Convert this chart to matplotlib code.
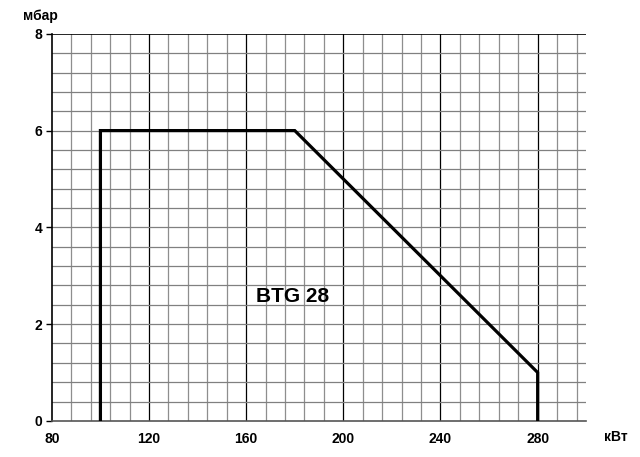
import numpy as np
import matplotlib.pyplot as plt

# range envelope of the burner
power_kw = [100, 100, 180, 280, 280]
pressure_mbar = [0, 6, 6, 1, 0]

x_ticks = [80, 120, 160, 200, 240, 280]
y_ticks = [0, 2, 4, 6, 8]
label = "BTG 28"

plt.rcParams['font.family'] = ['Liberation Sans', 'DejaVu Sans']

fig = plt.figure(figsize=(6.4, 4.57), dpi=100)
ax = fig.add_axes([0.081, 0.079, 0.835, 0.847])
ax.set_xlim(80, 300)
ax.set_ylim(0, 8)

# minor grid, every 8 kW and 0.4 mbar
for x in np.arange(88, 300, 8):
    if x % 40 == 0:
        ax.axvline(x, color='black', lw=0.9, zorder=1)
    else:
        ax.axvline(x, color='#8e8e8e', lw=0.9, zorder=1)
for y in np.arange(0.4, 8, 0.4):
    ax.axhline(y, color='#808080', lw=0.9, zorder=1)
ax.axhline(8, color='black', lw=1.2, zorder=1)

ax.plot(power_kw, pressure_mbar, color='black', lw=2.3, zorder=3,
        solid_joinstyle='miter')

ax.text(179, 2.58, label, fontsize=15, fontweight='bold',
        ha='center', va='center', zorder=4)

for s in ['top', 'right']:
    ax.spines[s].set_visible(False)
ax.spines['left'].set_linewidth(1.2)
ax.spines['bottom'].set_color('#555555')
ax.spines['bottom'].set_linewidth(1.2)

ax.set_xticks(x_ticks)
ax.set_yticks(y_ticks)
ax.tick_params(axis='x', length=0, pad=8, labelsize=10)
ax.tick_params(axis='y', length=4, width=1, pad=3, labelsize=10)
for t in ax.get_xticklabels() + ax.get_yticklabels():
    t.set_fontweight('bold')

fig.text(0.0625, 0.965, 'мбар', fontsize=10, fontweight='bold', ha='center', va='center')
fig.text(0.962, 0.043, 'кВт', fontsize=10, fontweight='bold', ha='center', va='center')

fig.savefig('out.png', dpi=100)
